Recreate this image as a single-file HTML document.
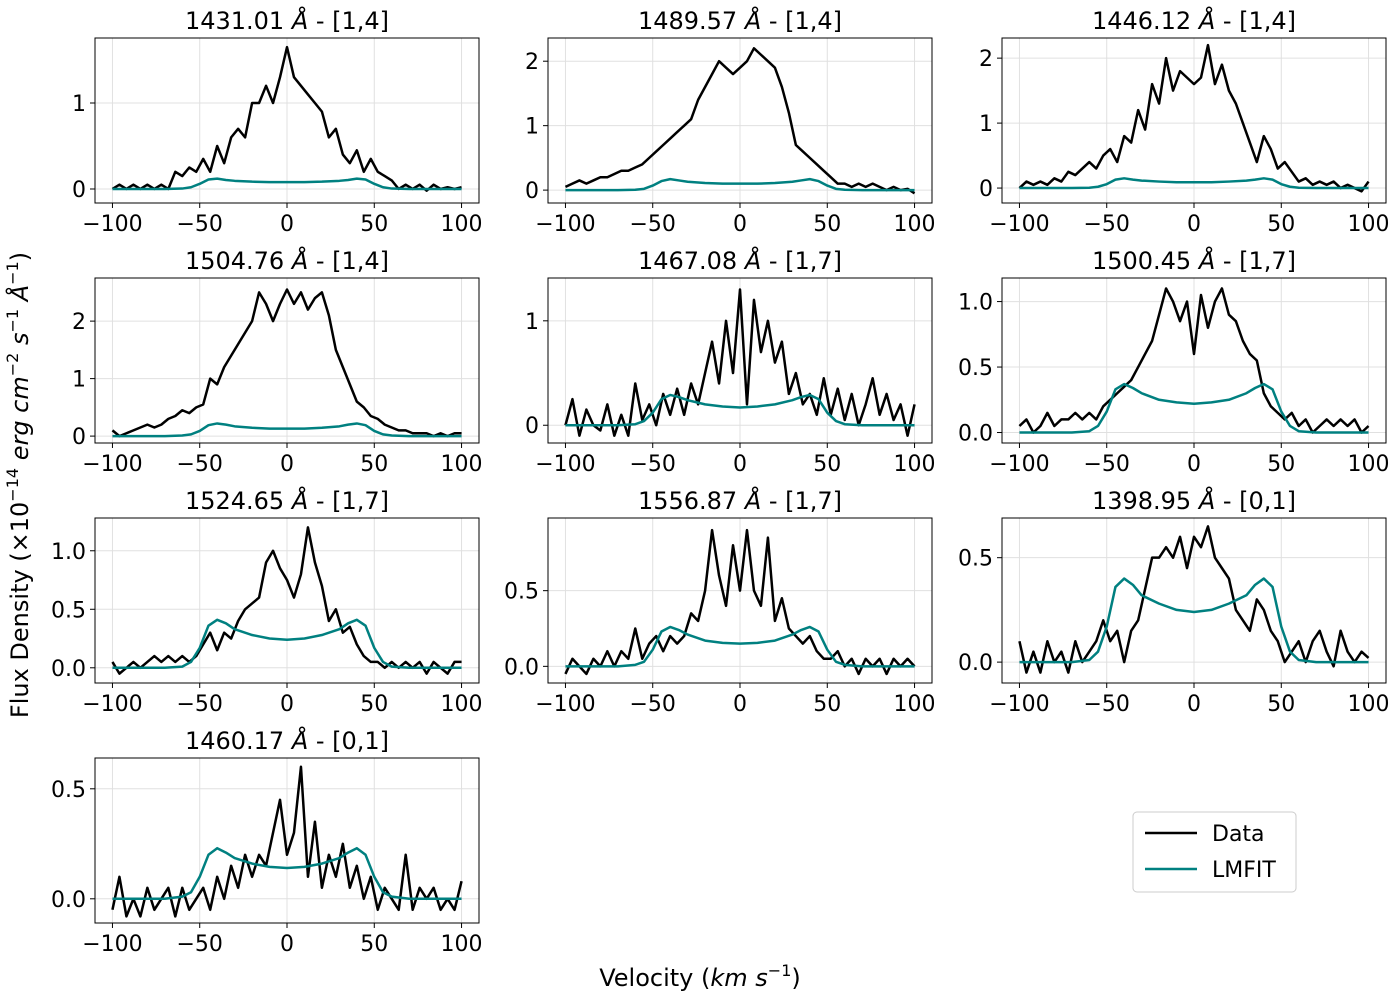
<!DOCTYPE html>
<html><head><meta charset="utf-8"><style>
body{margin:0;background:#fff;}
svg{display:block;font-family:"DejaVu Sans","Liberation Sans",sans-serif;}
</style></head><body>
<svg id="chart" width="1400" height="1000" xmlns="http://www.w3.org/2000/svg"></svg>
<script>
const dataX = [];
for (let v=-100; v<=100; v+=4) dataX.push(v);
const modelX = [-100,-70,-60,-55,-50,-45,-40,-35,-30,-20,-10,0,10,20,30,35,40,45,50,55,60,70,100];
const titleWaves = ["1431.01","1489.57","1446.12","1504.76","1467.08","1500.45","1524.65","1556.87","1398.95","1460.17"];
const titleLevels = ["[1,4]","[1,4]","[1,4]","[1,4]","[1,7]","[1,7]","[1,7]","[1,7]","[0,1]","[0,1]"];
const ylims = [[-0.163,1.756],[-0.2,2.36],[-0.23,2.31],[-0.12,2.75],[-0.17,1.41],[-0.08,1.18],[-0.13,1.28],[-0.11,0.98],[-0.10,0.69],[-0.11,0.64]];
const yticks = [[0,1],[0,1,2],[0,1,2],[0,1,2],[0,1],[0,0.5,1],[0,0.5,1],[0,0.5],[0,0.5],[0,0.5]];
const ytickLabels = [["0","1"],["0","1","2"],["0","1","2"],["0","1","2"],["0","1"],["0.0","0.5","1.0"],["0.0","0.5","1.0"],["0.0","0.5"],["0.0","0.5"],["0.0","0.5"]];
const xticks = [-100,-50,0,50,100];
const xtickLabels = ["−100","−50","0","50","100"];
const data1 = [0,0.05,0,0.05,0,0.05,0,0.05,0,0.2,0.15,0.25,0.2,0.35,0.2,0.5,0.3,0.6,0.7,0.6,1.0,1.0,1.2,1.0,1.3,1.65,1.3,1.2,1.1,1.0,0.9,0.6,0.7,0.4,0.3,0.45,0.2,0.35,0.2,0.15,0.1,0,0.05,0,0.05,-0.02,0.05,0,0.02,0,0.02];
const data2 = [0.05,0.1,0.15,0.1,0.15,0.2,0.2,0.25,0.3,0.3,0.35,0.4,0.5,0.6,0.7,0.8,0.9,1.0,1.1,1.4,1.6,1.8,2.0,1.9,1.8,1.9,2.0,2.2,2.1,2.0,1.9,1.6,1.2,0.7,0.6,0.5,0.4,0.3,0.2,0.1,0.1,0.05,0.1,0.05,0.1,0.05,0,0.05,0,0.02,-0.05];
const data3 = [0,0.1,0.05,0.1,0.05,0.15,0.1,0.25,0.2,0.3,0.4,0.3,0.5,0.6,0.4,0.8,0.7,1.2,0.9,1.6,1.3,2.0,1.5,1.8,1.7,1.6,1.7,2.2,1.6,1.9,1.5,1.3,1.0,0.7,0.4,0.8,0.6,0.3,0.4,0.25,0.1,0.15,0.05,0.1,0.05,0.1,0,0.05,0,-0.05,0.1];
const data4 = [0.1,0,0.05,0.1,0.15,0.2,0.15,0.2,0.3,0.35,0.45,0.4,0.5,0.55,1.0,0.9,1.2,1.4,1.6,1.8,2.0,2.5,2.3,2.0,2.3,2.55,2.3,2.5,2.2,2.4,2.5,2.1,1.5,1.2,0.9,0.6,0.5,0.35,0.3,0.2,0.15,0.1,0.1,0.05,0.05,0.05,0,0.05,0,0.05,0.05];
const data5 = [0,0.25,-0.1,0.15,0,-0.05,0.2,-0.1,0.1,-0.1,0.4,0.05,0.2,0,0.3,0.1,0.35,0.1,0.4,0.2,0.5,0.8,0.4,1.0,0.5,1.3,0.2,1.2,0.7,1.0,0.6,0.8,0.3,0.5,0.2,0.3,0.1,0.45,0.1,0.35,0.05,0.3,0,0.2,0.45,0.1,0.3,0.05,0.2,-0.1,0.2];
const data6 = [0.05,0.1,0,0.05,0.15,0.05,0.1,0.1,0.15,0.1,0.15,0.1,0.2,0.25,0.3,0.35,0.4,0.5,0.6,0.7,0.9,1.1,1.0,0.85,1.0,0.6,1.05,0.8,1.0,1.1,0.9,0.85,0.7,0.6,0.55,0.3,0.2,0.15,0.1,0.15,0.05,0.1,0,0.05,0.1,0.05,0.1,0.05,0.1,0,0.05];
const data7 = [0.05,-0.05,0,0.05,0,0.05,0.1,0.05,0.1,0.05,0.1,0.05,0.1,0.2,0.3,0.15,0.3,0.25,0.4,0.5,0.55,0.6,0.9,1.0,0.85,0.75,0.6,0.8,1.2,0.9,0.7,0.4,0.5,0.3,0.35,0.2,0.1,0.05,0.05,0,0.05,0,0.05,0,0.05,-0.05,0.05,0,-0.05,0.05,0.05];
const data8 = [-0.05,0.05,0,-0.05,0.05,0,0.1,0,0.1,0.05,0.25,0.05,0.15,0.2,0.1,0.2,0.15,0.2,0.35,0.3,0.5,0.9,0.6,0.4,0.8,0.5,0.9,0.5,0.4,0.85,0.3,0.45,0.25,0.2,0.15,0.2,0.1,0.05,0.05,0.1,0,0.05,-0.05,0.05,0,0.05,-0.05,0.05,0,0.05,0];
const data9 = [0.1,-0.05,0.05,-0.05,0.1,0,0.05,-0.05,0.1,0,0.05,0.1,0.2,0.1,0.15,0,0.15,0.2,0.35,0.5,0.5,0.55,0.5,0.6,0.45,0.6,0.55,0.65,0.5,0.45,0.4,0.25,0.2,0.15,0.3,0.25,0.15,0.1,0,0.05,0.1,0,0.1,0.15,0.05,-0.02,0.15,0.05,0,0.05,0.02];
const data10 = [-0.05,0.1,-0.08,0,-0.08,0.05,-0.05,0,0.05,-0.08,0.05,-0.05,0,0.05,-0.05,0.1,0,0.15,0.05,0.2,0.1,0.2,0.15,0.3,0.45,0.2,0.3,0.6,0.1,0.35,0.05,0.2,0.1,0.25,0.05,0.15,0,0.1,-0.05,0.05,0,-0.05,0.2,-0.05,0.05,0,0.05,-0.05,0,-0.05,0.08];
const model1 = [0,0,0.005,0.02,0.06,0.11,0.12,0.105,0.095,0.085,0.08,0.08,0.08,0.085,0.095,0.105,0.12,0.11,0.06,0.02,0.005,0,0];
const model2 = [0,0,0.005,0.02,0.07,0.14,0.17,0.15,0.13,0.11,0.1,0.1,0.1,0.11,0.13,0.15,0.17,0.14,0.07,0.02,0.005,0,0];
const model3 = [0,0,0.005,0.02,0.06,0.13,0.15,0.13,0.115,0.1,0.09,0.09,0.09,0.1,0.115,0.13,0.15,0.13,0.06,0.02,0.005,0,0];
const model4 = [0,0,0.01,0.03,0.09,0.19,0.22,0.2,0.17,0.145,0.13,0.13,0.13,0.145,0.17,0.2,0.22,0.19,0.09,0.03,0.01,0,0];
const model5 = [0,0,0.01,0.04,0.12,0.25,0.29,0.27,0.24,0.2,0.18,0.17,0.18,0.2,0.24,0.27,0.29,0.25,0.12,0.04,0.01,0,0];
const model6 = [0,0,0.01,0.05,0.16,0.33,0.37,0.34,0.3,0.25,0.23,0.22,0.23,0.25,0.3,0.34,0.37,0.33,0.16,0.05,0.01,0,0];
const model7 = [0,0,0.01,0.05,0.17,0.36,0.41,0.38,0.33,0.28,0.25,0.24,0.25,0.28,0.33,0.38,0.41,0.36,0.17,0.05,0.01,0,0];
const model8 = [0,0,0.01,0.03,0.11,0.23,0.26,0.24,0.21,0.17,0.155,0.15,0.155,0.17,0.21,0.24,0.26,0.23,0.11,0.03,0.01,0,0];
const model9 = [0,0,0.01,0.05,0.17,0.36,0.4,0.37,0.32,0.28,0.25,0.24,0.25,0.28,0.32,0.37,0.4,0.36,0.17,0.05,0.01,0,0];
const model10 = [0,0,0.01,0.03,0.1,0.2,0.23,0.21,0.185,0.16,0.145,0.14,0.145,0.16,0.185,0.21,0.23,0.2,0.1,0.03,0.01,0,0];
const datas=[data1,data2,data3,data4,data5,data6,data7,data8,data9,data10];
const models=[model1,model2,model3,model4,model5,model6,model7,model8,model9,model10];

const NS="http://www.w3.org/2000/svg";
const svg=document.getElementById('chart');
function mk(tag,attrs,parent){const e=document.createElementNS(NS,tag);for(const k in attrs)e.setAttribute(k,attrs[k]);(parent||svg).appendChild(e);return e;}
const colL=[95,548,1002], AW=384, rowT=[38,278,518,758], AH=165;
const XMIN=-110, XMAX=110;
for(let i=0;i<10;i++){
  const L=colL[i%3], T=rowT[Math.floor(i/3)];
  const [y0,y1]=ylims[i];
  const sx=v=>L+(v-XMIN)/(XMAX-XMIN)*AW;
  const sy=v=>T+AH-(v-y0)/(y1-y0)*AH;
  const g=mk('g',{});
  
  
  xticks.forEach((t,j)=>{
    const gl=mk('line',{x1:sx(t),x2:sx(t),y1:T,y2:T+AH,stroke:'#e0e0e0','stroke-width':1},g);
    
    
    mk('line',{x1:sx(t),x2:sx(t),y1:T+AH,y2:T+AH+5,stroke:'#000'},g);
    const tx=mk('text',{x:sx(t),y:T+AH+28,'text-anchor':'middle','font-size':22},g);
    tx.textContent=xtickLabels[j];
    
    
  });
  yticks[i].forEach((t,j)=>{
    const gl=mk('line',{x1:L,x2:L+AW,y1:sy(t),y2:sy(t),stroke:'#e0e0e0','stroke-width':1},g);
    
    
    mk('line',{x1:L-5,x2:L,y1:sy(t),y2:sy(t),stroke:'#000'},g);
    const tx=mk('text',{x:L-9,y:sy(t)+8,'text-anchor':'end','font-size':22},g);
    tx.textContent=ytickLabels[i][j];
    
    
  });
  const dl=mk('polyline',{points:dataX.map((x,k)=>sx(x)+','+sy(datas[i][k])).join(' '),fill:'none',stroke:'#000','stroke-width':2.5,'stroke-linejoin':'round'},g);
  
  
  const ml=mk('polyline',{points:modelX.map((x,k)=>sx(x)+','+sy(models[i][k])).join(' '),fill:'none',stroke:'#008080','stroke-width':2.5,'stroke-linejoin':'round'},g);
  
  
  const fr=mk('rect',{x:L,y:T,width:AW,height:AH,fill:'none',stroke:'#000','stroke-width':1},g);
  
  
  const ti=mk('text',{x:L+AW/2,y:T-9,'text-anchor':'middle','font-size':24},g);
  
  
  const s1=mk('tspan',{},ti); s1.textContent=titleWaves[i]+' ';
  const s2=mk('tspan',{'font-style':'italic'},ti); s2.textContent='Å';
  const s3=mk('tspan',{},ti); s3.textContent=' - '+titleLevels[i];
}
</script>
<svg style="position:absolute;left:0;top:0" width="1400" height="1000">
<text x="700" y="986" text-anchor="middle" font-size="24" font-family="DejaVu Sans, Liberation Sans, sans-serif">Velocity (<tspan font-style="italic">km s</tspan><tspan font-size="16" dy="-10">−1</tspan><tspan dy="10">)</tspan></text>
<text transform="translate(28,485) rotate(-90)" text-anchor="middle" font-size="24" font-family="DejaVu Sans, Liberation Sans, sans-serif">Flux Density (×10<tspan font-size="16" dy="-10">−14</tspan><tspan dy="10" font-style="italic"> erg cm</tspan><tspan font-size="16" dy="-10">−2</tspan><tspan dy="10" font-style="italic"> s</tspan><tspan font-size="16" dy="-10">−1</tspan><tspan dy="10" font-style="italic"> Å</tspan><tspan font-size="16" dy="-10">−1</tspan><tspan dy="10">)</tspan></text>
<g font-family="DejaVu Sans, Liberation Sans, sans-serif">
<rect x="1133" y="812" width="163" height="80" rx="4" fill="#fff" stroke="#ccc"/>
<line x1="1145" x2="1197" y1="833" y2="833" stroke="#000" stroke-width="2.5"/>
<text x="1212" y="841" font-size="22">Data</text>
<line x1="1145" x2="1197" y1="869" y2="869" stroke="#008080" stroke-width="2.5"/>
<text x="1212" y="877" font-size="22">LMFIT</text>
</g>
</svg>
</body></html>
